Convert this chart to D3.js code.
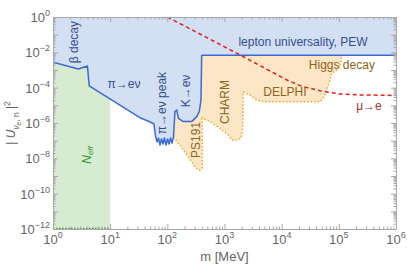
<!DOCTYPE html>
<html>
<head>
<meta charset="utf-8">
<script src="https://cdn.jsdelivr.net/npm/d3@7"></script>
<style>
  body { margin: 0; background: #fff; }
  text { font-family: "Liberation Sans", Arial, sans-serif; }
</style>
</head>
<body>
<div id="chart"></div>
<script>
// decades with labels
var xDecades = [0, 1, 2, 3, 4, 5, 6];
var yDecades = [0, -2, -4, -6, -8, -10, -12];

// blue bound (beta decay, pi->e nu, K->e nu, lepton universality)
var blueMass = [1, 2.77, 4.0, 4.3, 33, 46, 58.4, 62, 66, 70, 74.5, 79, 84, 89, 95, 101, 107, 113.5, 121, 128,
  136, 146, 156, 190, 267, 326, 362, 388, 399, 1e6];
var blueU = [2.75e-3, 1.15e-3, 1.7e-3, 1.26e-4, 2.0e-6, 1.3e-6, 8.8e-7, 1.85e-7, 8.5e-8, 1.4e-7, 5.7e-8, 1.25e-7, 6.5e-8, 1.4e-7, 5.7e-8, 1.25e-7, 6.5e-8, 1.4e-7, 7.4e-8, 1.6e-7,
  4.4e-6, 5.5e-6, 1.85e-6, 1.2e-6, 1.2e-6, 2.3e-6, 4.4e-6, 2e-5, 6.8e-3, 6.8e-3];

// orange lower edge (PS191, CHARM, DELPHI, Higgs decay)
var orangeMass = [128, 166, 233, 305, 348, 373, 409, 409, 557, 834, 1165, 1336, 1635, 1920, 2080, 2130, 2790, 3660, 4770, 8180,
  46800, 53400, 61300, 70000, 75000, 91700, 105000, 112000, 117000];
var orangeU = [1.6e-7, 5.7e-8, 1.2e-8, 3.4e-9, 2.2e-9, 2.2e-9, 2.8e-9, 1.85e-6, 1.2e-6, 5e-7, 2.1e-7, 1.1e-7, 1.1e-7, 1.37e-7, 4e-7, 5.9e-5, 3.9e-5, 2e-5, 1.6e-5, 1.6e-5,
  1.6e-5, 2.5e-5, 7.4e-5, 2.7e-4, 6.5e-4, 1e-3, 1.5e-3, 5.7e-3, 6.8e-3];

// mu -> e
var redMass = [100, 372, 1870, 6250, 12400, 22900, 52500, 105000, 234000, 1e6];
var redU = [1, 0.109, 7.1e-3, 8.8e-4, 2.7e-4, 1.17e-4, 6.2e-5, 4.4e-5, 3.9e-5, 3.6e-5];

// N_eff band
var neffMass = [1, 10];

var margin = { top: 17, right: 11, bottom: 38, left: 53 };
var width = 407 - margin.left - margin.right;
var height = 267 - margin.top - margin.bottom;

var x = d3.scaleLog().domain([1, 1e6]).range([0, width]);
var y = d3.scaleLog().domain([1e-12, 1]).range([height, 0]);

var svg = d3.select("#chart").append("svg")
    .attr("width", 407)
    .attr("height", 267)
    .append("g").attr("transform", `translate(${margin.left},${margin.top})`);

svg.append("clipPath").attr("id", "clip")
    .append("rect").attr("width", width).attr("height", height);

var plot = svg.append("g").attr("clip-path", "url(#clip)");

var zip = (ms, us) => ms.map((m, i) => [m, us[i]]);
var line = d3.line().x(d => x(d[0])).y(d => y(d[1]));

// green N_eff
plot.append("rect")
    .attr("x", x(neffMass[0])).attr("width", x(neffMass[1]) - x(neffMass[0]))
    .attr("y", 0).attr("height", height)
    .attr("fill", "#d6ebcf");
plot.append("line")
    .attr("x1", x(neffMass[0])).attr("x2", x(neffMass[1]))
    .attr("y1", height - 0.5).attr("y2", height - 0.5)
    .attr("stroke", "#3f9a3f").attr("stroke-width", 1.3)
    .style("stroke-dasharray", "1.5,1.5");

// orange area
var orangePts = zip(orangeMass, orangeU);
var orangePoly = orangePts.concat([[orangeMass[orangeMass.length - 1], 1], [orangeMass[0], 1]]);
plot.append("path")
    .attr("d", line(orangePoly) + "Z")
    .attr("fill", "#fde6c6");

// blue area
var bluePts = zip(blueMass, blueU);
var bluePoly = bluePts.concat([[1e6, 1], [1, 1]]);
plot.append("path")
    .attr("d", line(bluePoly) + "Z")
    .attr("fill", "#d3dff3");

plot.append("path")
    .attr("d", line(orangePts))
    .attr("fill", "none")
    .attr("stroke", "#f5a524").attr("stroke-width", 1.5)
    .style("stroke-dasharray", "1.5,2");

plot.append("path")
    .attr("d", line(bluePts))
    .attr("fill", "none")
    .attr("stroke", "#3a6ad6").attr("stroke-width", 1.5)
    .attr("stroke-linejoin", "round");

plot.append("path")
    .attr("d", line(zip(redMass, redU)))
    .attr("fill", "none")
    .attr("stroke", "#e3201f").attr("stroke-width", 1.5)
    .style("stroke-dasharray", "4,3");

// labels
var blueTxt = "#34508c", orTxt = "#8c6419";
function label(t, m, u, col, rot, size) {
    var g = plot.append("text")
        .attr("transform", `translate(${x(m)},${y(u)}) rotate(${rot || 0})`)
        .attr("text-anchor", "middle")
        .attr("dominant-baseline", "central")
        .attr("font-size", size || 12)
        .attr("fill", col);
    g.text(t);
    return g;
}
label("β decay", 2.33, 0.038, blueTxt, -90);
label("π→eν", 17.5, 10 ** -3.79, blueTxt, 0);
label("π→eν peak", 80.7, 10 ** -4.87, blueTxt, -90);
label("K→eν", 212, 10 ** -4.19, blueTxt, -90);
label("lepton universality, PEW", 23600, 10 ** -1.41, blueTxt, 0);
label("PS191", 317, 10 ** -6.96, orTxt, -90);
label("CHARM", 1020, 10 ** -4.81, orTxt, -90);
label("DELPHI", 11400, 10 ** -4.24, orTxt, 0);
label("Higgs decay", 113000, 10 ** -2.72, orTxt, 0);
label("μ→e", 337000, 10 ** -5.04, "#a83232", 0);
var neff = label("", 3.93, 10 ** -7.81, "#2e9a2e", -90).attr("font-style", "italic");
neff.append("tspan").text("N");
neff.append("tspan").attr("font-size", 8).attr("dy", 3).text("eff");

// frame and ticks
var axisCol = "#a8a8a8";
var xMinor = [], yMinor = [];
for (var k = 0; k < 6; k++) for (var j = 2; j < 10; j++) xMinor.push(j * 10 ** k);
for (var k = -12; k < 0; k++) for (var j = 2; j < 10; j++) yMinor.push(j * 10 ** k);
var xMajor = xDecades.map(d => 10 ** d);
var yMajor = d3.range(-12, 1).map(d => 10 ** d);

function drawAxis(axis, transform, vals, size) {
    var g = svg.append("g").attr("transform", transform)
        .call(axis.tickValues(vals).tickSizeInner(size).tickSizeOuter(0).tickFormat(""));
    g.selectAll("line").attr("stroke", axisCol);
    g.select(".domain").attr("stroke", axisCol);
}
drawAxis(d3.axisBottom(x), `translate(0,${height})`, xMajor, -5);
drawAxis(d3.axisBottom(x), `translate(0,${height})`, xMinor, -2.5);
drawAxis(d3.axisTop(x), "translate(0,0)", xMajor, -5);
drawAxis(d3.axisTop(x), "translate(0,0)", xMinor, -2.5);
drawAxis(d3.axisLeft(y), "translate(0,0)", yMajor, -5);
drawAxis(d3.axisLeft(y), "translate(0,0)", yMinor, -2.5);
drawAxis(d3.axisRight(y), `translate(${width},0)`, yMajor, -5);
drawAxis(d3.axisRight(y), `translate(${width},0)`, yMinor, -2.5);

var tickCol = "#666";
function powLabel(sel, e) {
    sel.append("tspan").text("10");
    sel.append("tspan").attr("font-size", 9).attr("dy", -6).text(e < 0 ? "−" + (-e) : e);
}
xDecades.forEach(function (e) {
    var t = svg.append("text")
        .attr("x", x(10 ** e)).attr("y", height + 15)
        .attr("text-anchor", "middle").attr("font-size", 13).attr("fill", tickCol);
    powLabel(t, e);
});
yDecades.forEach(function (e) {
    var t = svg.append("text")
        .attr("x", -3).attr("y", y(10 ** e) + 5)
        .attr("text-anchor", "end").attr("font-size", 13).attr("fill", tickCol);
    powLabel(t, e);
});

// axis titles
svg.append("text")
    .attr("x", width / 2).attr("y", height + 32)
    .attr("text-anchor", "middle").attr("font-size", 13).attr("fill", tickCol)
    .text("m [MeV]");

var yt = svg.append("text")
    .attr("transform", `translate(${-38},${height / 2}) rotate(-90)`)
    .attr("text-anchor", "middle").attr("font-size", 12).attr("fill", tickCol);
yt.append("tspan").text("| ");
yt.append("tspan").attr("font-style", "italic").text("U");
yt.append("tspan").attr("font-size", 8.5).attr("dy", 4).attr("font-style", "italic").text("ν");
yt.append("tspan").attr("font-size", 6.5).attr("dy", 2).attr("font-style", "italic").text("e");
yt.append("tspan").attr("font-size", 8.5).attr("dy", -2).text(", n");
yt.append("tspan").attr("dy", -4).text(" |");
yt.append("tspan").attr("font-size", 8.5).attr("dy", -5).text("2");
</script>
</body>
</html>
